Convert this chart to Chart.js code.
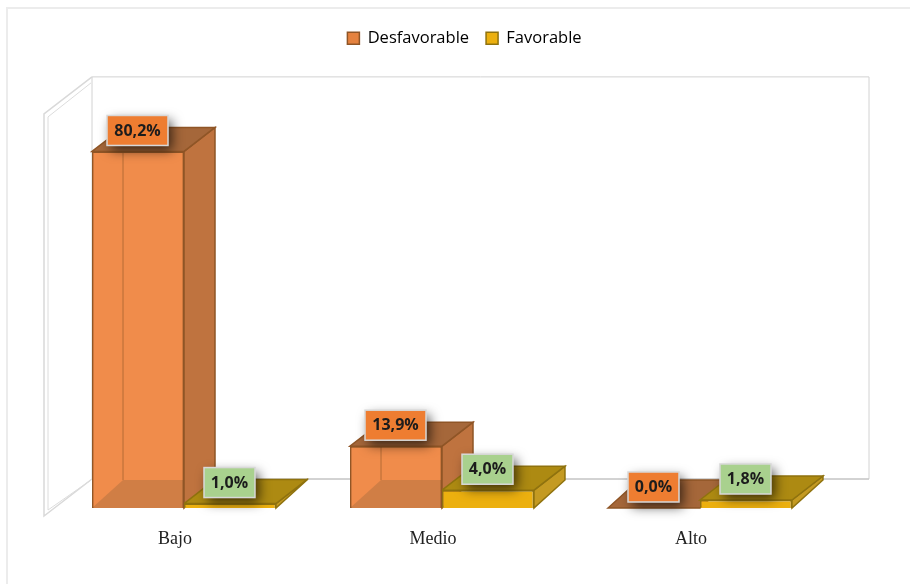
<!DOCTYPE html>
<html>
<head>
<meta charset="utf-8">
<script src="https://cdn.jsdelivr.net/npm/chart.js@4"></script>
<style>
  html, body { margin: 0; padding: 0; background: #fff; }
  #wrap { width: 910px; height: 584px; }
</style>
</head>
<body>
<div id="wrap"><canvas id="chart" width="910" height="584"></canvas></div>
<script>
const categories = ["Bajo", "Medio", "Alto"];
const desfavorable = [80.2, 13.9, 0.0];
const favorable = [1.0, 4.0, 1.8];

// depth of the fake 3d boxes
const depthX = 31;
const depthTop = 24;
const depthFloor = 28;

const orange = { front: "#ef8c4d", frontSoft: "rgba(240,140,75,0.6)", side: "#bf733f", top: "#a5673a", edge: "#8f5526", floor: "#a06a3e", label: "#ee7d31" };
const gold = { front: "#ecb00f", frontSoft: "#ecb00f", side: "#c49a22", top: "#ad8a12", edge: "#8f720e", floor: "#ad8a12", label: "#a9d18e" };

function poly(ctx, pts, fill, stroke) {
  ctx.beginPath();
  pts.forEach((p, i) => (i ? ctx.lineTo(p[0], p[1]) : ctx.moveTo(p[0], p[1])));
  ctx.closePath();
  if (fill) { ctx.fillStyle = fill; ctx.fill(); }
  if (stroke) { ctx.strokeStyle = stroke; ctx.lineWidth = 1.5; ctx.stroke(); }
}

function line(ctx, pts, color, width) {
  ctx.beginPath();
  pts.forEach((p, i) => (i ? ctx.lineTo(p[0], p[1]) : ctx.moveTo(p[0], p[1])));
  ctx.strokeStyle = color;
  ctx.lineWidth = width || 1;
  ctx.stroke();
}

// frame + back wall + left wall
function drawWalls(chart) {
  const ctx = chart.ctx;
  const base = chart.scales.y.getPixelForValue(0);
  const left = chart.chartArea.left + 37;
  const right = chart.chartArea.right + 40;
  const top = chart.chartArea.top - 31;
  const back = base - depthFloor - 1;

  line(ctx, [[7, chart.height], [7, 8], [chart.width, 8]], "#ececec", 2);
  line(ctx, [[left, back], [right, back], [right, top], [left, top], [left, back]], "#d2d2d2");
  line(ctx, [[left, back], [right, back]], "#bdbdbd");
  line(ctx, [[left, top], [left - 48, top + 37], [left - 48, back + 37], [left, back]], "#d9d9d9", 1.5);
  line(ctx, [[left - 1, top + 6], [left - 44, top + 40], [left - 44, back + 31], [left - 1, back + 1]], "#dcdcdc", 1);
}

function drawBack(chart, index, colors, isOrange) {
  const ctx = chart.ctx;
  const base = chart.scales.y.getPixelForValue(0);
  const floorBack = base - depthFloor;
  chart.getDatasetMeta(index).data.forEach((bar) => {
    const l = bar.x - bar.width / 2;
    const r = bar.x + bar.width / 2;
    const t = bar.y;
    const flat = base - t < 1;
    const d = flat ? depthFloor : depthTop;
    if (!flat) {
      poly(ctx, [[r, t], [r + depthX, t - d], [r + depthX, floorBack], [r, base]], colors.side, colors.edge);
      if (isOrange) {
        // backing of the translucent front, floor and rear edge show through it
        ctx.fillStyle = colors.front;
        ctx.fillRect(l, t, bar.width, base - t);
        ctx.save();
        ctx.beginPath();
        ctx.rect(l, t, bar.width, base - t);
        ctx.clip();
        poly(ctx, [[l, base], [l + depthX, floorBack], [r + depthX, floorBack], [r, base]], colors.floor);
        line(ctx, [[l + depthX, t - d], [l + depthX, floorBack]], colors.edge, 1.5);
        ctx.restore();
      }
    }
    poly(ctx, [[l, t], [l + depthX, t - d], [r + depthX, t - d], [r, t]], colors.top, colors.edge);
  });
}

function drawLabels(chart, index, colors, values) {
  const ctx = chart.ctx;
  chart.getDatasetMeta(index).data.forEach((bar, i) => {
    const text = values[i].toFixed(1).replace(".", ",") + "%";
    ctx.font = "bold 16px 'Open Sans'";
    const w = values[i] >= 10 ? 61 : 51;
    const h = 30;
    const x = bar.x - w / 2 - 0.5;
    const y = bar.y - 21 - h / 2;
    ctx.save();
    ctx.shadowColor = "rgba(0,0,0,0.65)";
    ctx.shadowBlur = 12;
    ctx.shadowOffsetX = 4;
    ctx.shadowOffsetY = 5;
    ctx.fillStyle = colors.label;
    ctx.fillRect(x, y, w, h);
    ctx.restore();
    ctx.strokeStyle = "#d8d8d8";
    ctx.lineWidth = 1.5;
    ctx.strokeRect(x, y, w, h);
    ctx.fillStyle = "#1c1c1c";
    ctx.textAlign = "center";
    ctx.textBaseline = "middle";
    ctx.fillText(text, x + w / 2, y + h / 2 + 0.5);
  });
}

const boxes3d = {
  id: "boxes3d",
  beforeLayout(chart) {
    // keep the legend up top but leave room for the 3d wall below it
    const legend = chart.legend;
    if (!legend.tallFit) {
      const fit = legend.fit;
      legend.fit = function () { fit.call(this); this.height += 51.4; };
      legend.tallFit = true;
    }
  },
  afterLayout(chart) {
    // legend sits to the right of the canvas centre in the original
    const shift = 22.5;
    chart.legend.left += shift;
    chart.legend.right += shift;
  },
  beforeDatasetsDraw(chart) {
    drawWalls(chart);
    drawBack(chart, 0, orange, true);
    drawBack(chart, 1, gold, false);
  },
  afterDatasetsDraw(chart) {
    drawLabels(chart, 0, orange, desfavorable);
    drawLabels(chart, 1, gold, favorable);
  },
};

new Chart(document.getElementById("chart").getContext("2d"), {
  type: "bar",
  data: {
    labels: categories,
    datasets: [
      {
        label: "Desfavorable",
        data: desfavorable,
        backgroundColor: orange.frontSoft,
        borderColor: orange.edge,
        borderWidth: 1.5,
        categoryPercentage: 0.713,
        barPercentage: 1,
      },
      {
        label: "Favorable",
        data: favorable,
        backgroundColor: gold.front,
        borderColor: gold.edge,
        borderWidth: 1.5,
        categoryPercentage: 0.713,
        barPercentage: 1,
      },
    ],
  },
  options: {
    responsive: false,
    animation: false,
    layout: { padding: { top: 13, left: 55, right: 81, bottom: 0 } },
    plugins: {
      tooltip: { enabled: false },
      legend: {
        position: "top",
        labels: {
          boxWidth: 12,
          boxHeight: 12,
          padding: 17,
          color: "#333",
          font: { family: "'Open Sans'", size: 16.5 },
          generateLabels(chart) {
            return chart.data.datasets.map((d, i) => ({
              text: d.label,
              fillStyle: i === 0 ? "#e5823f" : gold.front,
              strokeStyle: i === 0 ? orange.edge : gold.edge,
              lineWidth: 1.5,
              datasetIndex: i,
            }));
          },
        },
      },
    },
    scales: {
      x: {
        grid: { display: false },
        border: { display: false },
        afterFit(scale) { scale.height = 76; },
        ticks: {
          labelOffset: -9,
          padding: 12,
          color: "#222",
          font: { family: "'Liberation Serif'", size: 18 },
        },
      },
      y: {
        display: false,
        min: 0,
        max: 90,
      },
    },
  },
  plugins: [boxes3d],
});
</script>
</body>
</html>
